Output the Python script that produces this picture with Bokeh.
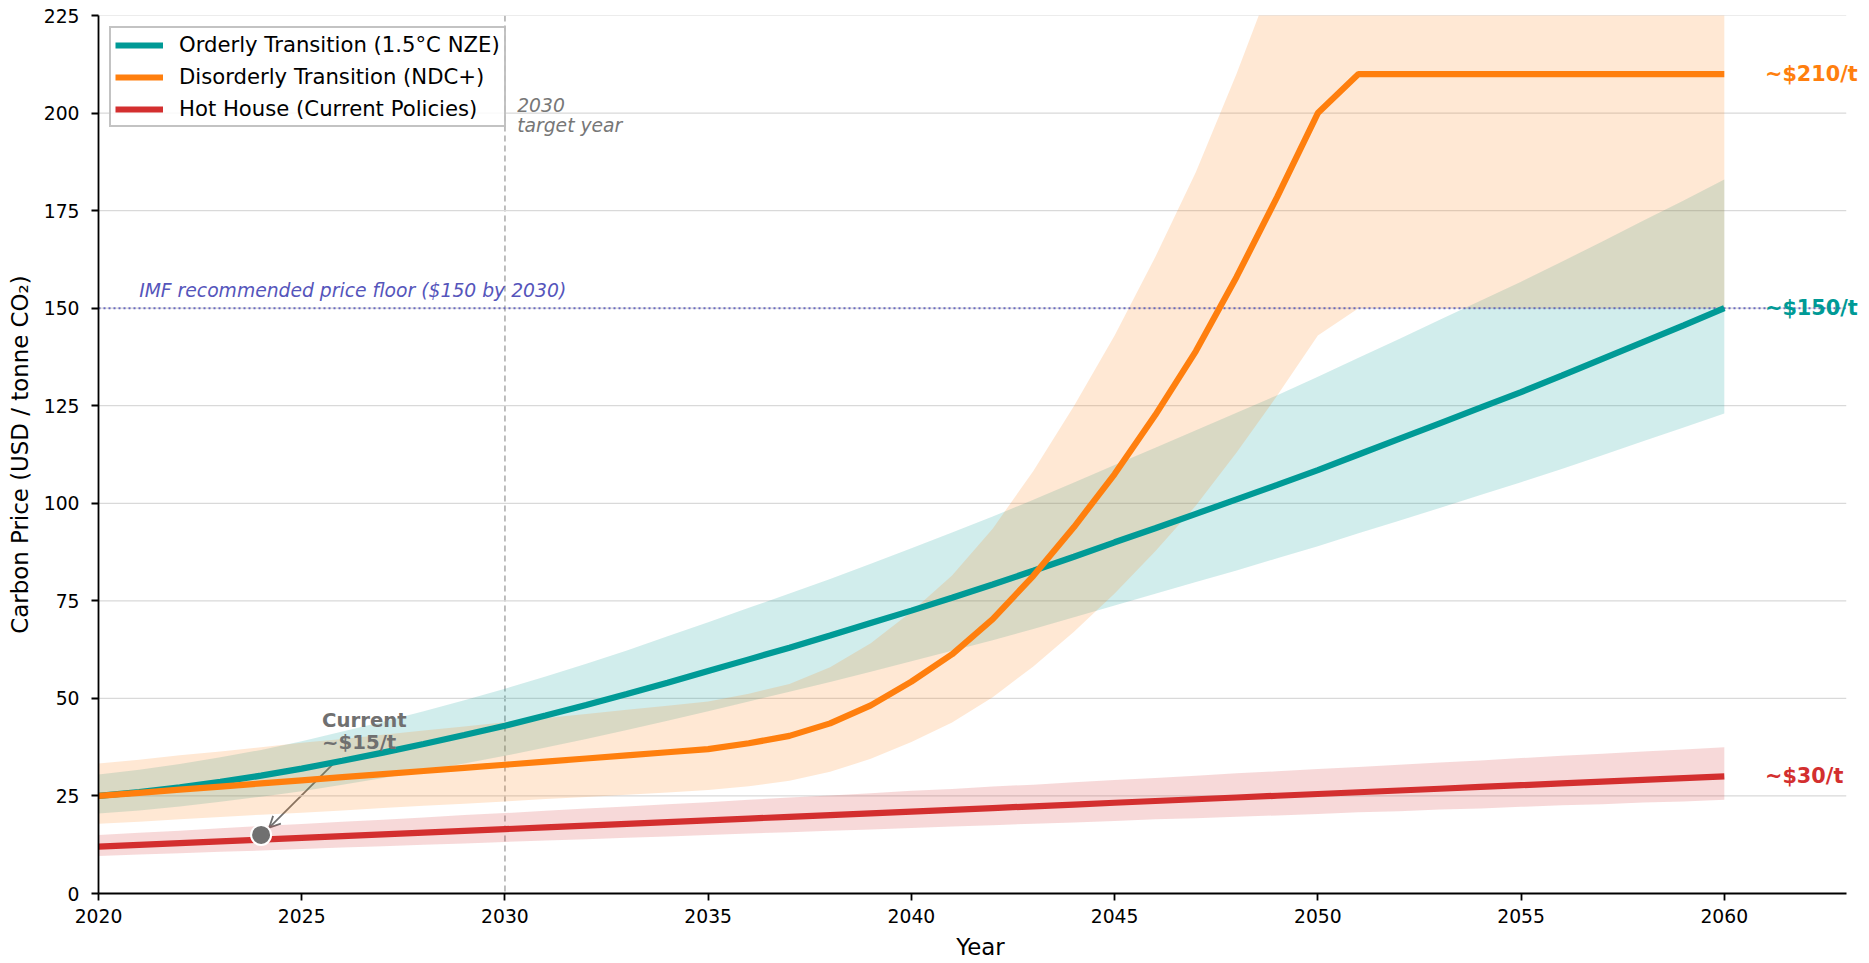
from bokeh.plotting import figure
from bokeh.models import Range1d, Span, Label, Arrow, OpenHead, Legend, LegendItem, FixedTicker
from bokeh.embed import file_html
from bokeh.resources import INLINE

# ---------------- data ----------------
YEARS = list(range(2020, 2061))

ORDERLY = [25.0, 26.0, 27.2, 28.6, 30.2, 32.0, 34.0, 36.1, 38.3, 40.6,
           43.0, 45.6, 48.3, 51.1, 54.0, 57.0, 60.0, 63.0, 66.1, 69.3,
           72.5, 75.8, 79.2, 82.7, 86.3, 90.0, 93.6, 97.3, 101.0, 104.7,
           108.5, 112.5, 116.5, 120.5, 124.5, 128.5, 132.7, 137.0, 141.3, 145.6,
           150.0]
ORDERLY_HI = [30.5, 31.7, 33.2, 34.9, 36.8, 39.0, 41.5, 44.0, 46.7, 49.5,
              52.5, 55.6, 58.9, 62.3, 65.9, 69.5, 73.2, 76.9, 80.6, 84.5,
              88.5, 92.5, 96.6, 100.9, 105.3, 109.8, 114.2, 118.7, 123.2, 127.7,
              132.4, 137.3, 142.1, 147.0, 151.9, 156.8, 161.9, 167.1, 172.4, 177.6,
              183.0]
ORDERLY_LO = [20.5, 21.3, 22.3, 23.5, 24.8, 26.2, 27.9, 29.6, 31.4, 33.3,
              35.3, 37.4, 39.6, 41.9, 44.3, 46.7, 49.2, 51.7, 54.2, 56.8,
              59.5, 62.2, 64.9, 67.8, 70.8, 73.8, 76.8, 79.8, 82.8, 85.9,
              89.0, 92.3, 95.5, 98.8, 102.1, 105.4, 108.8, 112.3, 115.9, 119.4,
              123.0]

DISORDERLY = [25.0, 25.8, 26.6, 27.4, 28.2, 29.0, 29.8, 30.6, 31.4, 32.2,
              33.0, 33.8, 34.6, 35.4, 36.2, 37.0, 38.5, 40.4, 43.6, 48.2,
              54.3, 61.3, 70.3, 81.4, 93.9, 107.5, 122.6, 139.0, 158.0, 178.5,
              200.0, 210.0, 210.0, 210.0, 210.0, 210.0, 210.0, 210.0, 210.0, 210.0,
              210.0]
DISORDERLY_HI = [33.3, 34.3, 35.4, 36.4, 37.5, 38.6, 39.6, 40.7, 41.8, 42.8,
                 43.9, 45.0, 46.0, 47.1, 48.1, 49.2, 51.2, 53.7, 58.0, 64.1,
                 72.2, 81.5, 93.5, 108.3, 124.9, 143.0, 163.1, 184.9, 210.1, 237.4,
                 266.0, 279.3, 279.3, 279.3, 279.3, 279.3, 279.3, 279.3, 279.3, 279.3,
                 279.3]
DISORDERLY_LO = [17.9, 18.4, 19.0, 19.6, 20.2, 20.7, 21.3, 21.9, 22.5, 23.0,
                 23.6, 24.2, 24.7, 25.3, 25.9, 26.5, 27.5, 28.9, 31.2, 34.5,
                 38.8, 43.8, 50.3, 58.2, 67.1, 76.9, 87.7, 99.4, 113.0, 127.6,
                 143.0, 150.0, 150.0, 150.0, 150.0, 150.0, 150.0, 150.0, 150.0, 150.0,
                 150.0]

HOTHOUSE = [12.0, 12.45, 12.9, 13.35, 13.8, 14.25, 14.7, 15.15, 15.6, 16.05,
            16.5, 16.95, 17.4, 17.85, 18.3, 18.75, 19.2, 19.65, 20.1, 20.55,
            21.0, 21.45, 21.9, 22.35, 22.8, 23.25, 23.7, 24.15, 24.6, 25.05,
            25.5, 25.95, 26.4, 26.85, 27.3, 27.75, 28.2, 28.65, 29.1, 29.55,
            30.0]
HOTHOUSE_HI = [15.0, 15.6, 16.1, 16.7, 17.3, 17.8, 18.4, 18.9, 19.5, 20.1,
               20.6, 21.2, 21.8, 22.3, 22.9, 23.4, 24.0, 24.6, 25.1, 25.7,
               26.3, 26.8, 27.4, 27.9, 28.5, 29.1, 29.6, 30.2, 30.8, 31.3,
               31.9, 32.4, 33.0, 33.6, 34.1, 34.7, 35.3, 35.8, 36.4, 36.9,
               37.5]
HOTHOUSE_LO = [9.6, 10.0, 10.3, 10.7, 11.0, 11.4, 11.8, 12.1, 12.5, 12.8,
               13.2, 13.6, 13.9, 14.3, 14.6, 15.0, 15.4, 15.7, 16.1, 16.4,
               16.8, 17.2, 17.5, 17.9, 18.2, 18.6, 19.0, 19.3, 19.7, 20.0,
               20.4, 20.8, 21.1, 21.5, 21.8, 22.2, 22.6, 22.9, 23.3, 23.6,
               24.0]

SERIES_NAMES = ["Orderly Transition (1.5°C NZE)",
                "Disorderly Transition (NDC+)",
                "Hot House (Current Policies)"]
END_LABELS = ["~$150/t", "~$210/t", "~$30/t"]
END_VALUES = [150, 210, 30]

X_TICKS = [2020, 2025, 2030, 2035, 2040, 2045, 2050, 2055, 2060]
Y_TICKS = [0, 25, 50, 75, 100, 125, 150, 175, 200, 225]
X_MIN, X_AXIS_END, X_VIEW_END = 2020, 2063, 2063.4
Y_MIN, Y_MAX = 0, 225

TARGET_YEAR = 2030
IMF_FLOOR = 150
CURRENT_YEAR = 2024
CURRENT_PRICE = 15

# ---------------- styling ----------------
TEAL = "#009a96"
ORANGE = "#ff7f0e"
RED = "#d32f2f"
GREY = "#707070"
IMF_COLOR = "#5555bb"
FONT = "DejaVu Sans"
LW = 6.2

p = figure(width=1869, height=963,
           x_range=Range1d(X_MIN, X_VIEW_END), y_range=Range1d(Y_MIN, Y_MAX),
           output_backend="svg", toolbar_location=None,
           min_border_left=98, min_border_right=7,
           min_border_top=15, min_border_bottom=70)
p.outline_line_color = None
p.background_fill_color = "white"
p.border_fill_color = "white"

# grid (drawn as segments so they stop at the axis end)
p.xgrid.grid_line_color = None
p.ygrid.grid_line_color = None
p.segment(x0=[X_MIN] * len(Y_TICKS), y0=Y_TICKS,
          x1=[X_AXIS_END] * len(Y_TICKS), y1=Y_TICKS,
          line_color="#d9d9d9", line_width=1.2)

# axes
p.xaxis.ticker = FixedTicker(ticks=X_TICKS)
p.yaxis.ticker = FixedTicker(ticks=Y_TICKS)
p.xaxis.bounds = (X_MIN, X_AXIS_END)
for ax in (p.xaxis, p.yaxis):
    ax.axis_line_color = "black"
    ax.axis_line_width = 1.8
    ax.major_tick_line_color = "black"
    ax.major_tick_line_width = 1.8
    ax.major_tick_out = 7
    ax.major_tick_in = 0
    ax.minor_tick_line_color = None
    ax.major_label_text_font = FONT
    ax.major_label_text_font_size = "18.75px"
    ax.major_label_text_color = "black"
    ax.axis_label_text_font = FONT
    ax.axis_label_text_font_size = "22.9px"
    ax.axis_label_text_font_style = "normal"
    ax.axis_label_text_color = "black"
p.xaxis.major_label_standoff = 8
p.xaxis.axis_label_standoff = 8
p.yaxis.major_label_standoff = 12
p.yaxis.axis_label_standoff = 8
p.xaxis.axis_label = "Year"
p.yaxis.axis_label = "Carbon Price (USD / tonne CO₂)"

# uncertainty bands
p.varea(x=YEARS, y1=ORDERLY_LO, y2=ORDERLY_HI, fill_color=TEAL, fill_alpha=0.18)
p.varea(x=YEARS, y1=DISORDERLY_LO, y2=DISORDERLY_HI, fill_color=ORANGE, fill_alpha=0.18)
p.varea(x=YEARS, y1=HOTHOUSE_LO, y2=HOTHOUSE_HI, fill_color=RED, fill_alpha=0.18)

# reference lines
vline = Span(location=TARGET_YEAR, dimension="height", line_color="#aaaaaa",
             line_width=1.5, line_dash="6 4", level="underlay")
p.add_layout(vline)
p.line([X_MIN, X_AXIS_END], [IMF_FLOOR, IMF_FLOOR], line_color=IMF_COLOR,
       line_width=2, line_dash="2 3", line_alpha=0.85)

# arrow to current price
p.add_layout(Arrow(end=OpenHead(size=11, line_color=GREY, line_width=1.8),
                   x_start=2025.8, y_start=33.5, x_end=2024.2, y_end=16.9,
                   line_color=GREY, line_width=1.8, level="underlay"))

# central lines
r_teal = p.line(YEARS, ORDERLY, line_color=TEAL, line_width=LW)
r_orange = p.line(YEARS, DISORDERLY, line_color=ORANGE, line_width=LW)
r_red = p.line(YEARS, HOTHOUSE, line_color=RED, line_width=LW)

# current price point
p.scatter([CURRENT_YEAR], [CURRENT_PRICE], size=20, fill_color=GREY,
          line_color="white", line_width=2)

# text annotations
p.add_layout(Label(x=TARGET_YEAR + 0.3, y=202, text="2030", text_font=FONT,
                   text_font_size="18.75px", text_font_style="italic",
                   text_color="#777777", text_baseline="middle"))
p.add_layout(Label(x=TARGET_YEAR + 0.3, y=196.9, text="target year", text_font=FONT,
                   text_font_size="18.75px", text_font_style="italic",
                   text_color="#777777", text_baseline="middle"))
p.add_layout(Label(x=2021, y=154.6, text="IMF recommended price floor ($150 by 2030)",
                   text_font=FONT, text_font_size="18.75px", text_font_style="italic",
                   text_color=IMF_COLOR, text_baseline="middle"))
p.add_layout(Label(x=2025.5, y=44.3, text="Current", text_font=FONT,
                   text_font_size="19.7px", text_font_style="bold",
                   text_color=GREY, text_baseline="middle"))
p.add_layout(Label(x=2025.5, y=38.7, text="~$15/t", text_font=FONT,
                   text_font_size="19.7px", text_font_style="bold",
                   text_color=GREY, text_baseline="middle"))

for txt, val, col in zip(END_LABELS, END_VALUES, [TEAL, ORANGE, RED]):
    p.add_layout(Label(x=2061, y=val, text=txt, text_font=FONT,
                       text_font_size="20.8px", text_font_style="bold",
                       text_color=col, text_baseline="middle"))

legend = Legend(items=[LegendItem(label=SERIES_NAMES[0], renderers=[r_teal]),
                       LegendItem(label=SERIES_NAMES[1], renderers=[r_orange]),
                       LegendItem(label=SERIES_NAMES[2], renderers=[r_red])],
                location="top_left")
legend.margin = 11
legend.padding = 4
legend.spacing = 7
legend.glyph_width = 48
legend.glyph_height = 24
legend.label_height = 24
legend.label_standoff = 16
legend.label_text_font = FONT
legend.label_text_font_size = "21.2px"
legend.label_text_color = "black"
legend.border_line_color = "#888888"
legend.border_line_width = 2
legend.background_fill_color = "white"
legend.background_fill_alpha = 0.85
p.add_layout(legend)

open("out.html", "w").write(file_html(p, INLINE))
